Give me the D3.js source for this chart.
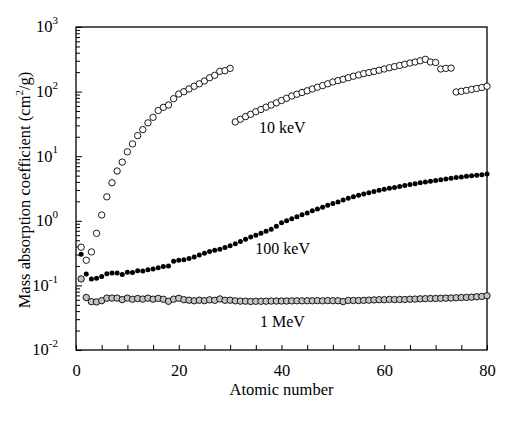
<!DOCTYPE html>
<html>
<head>
<meta charset="utf-8">
<script src="https://d3js.org/d3.v7.min.js"></script>
<style>
  body { margin: 0; background: #fff; }
  text { font-family: "Liberation Serif", "Times New Roman", serif; fill: #000; }
</style>
</head>
<body>
<svg width="517" height="425"></svg>
<script>
// atomic numbers 1..80
var atomicNumbers = d3.range(1, 81);

// mass absorption coefficient (cm2/g)
var kev10 = [0.39, 0.245, 0.33, 0.64, 1.23, 2.35, 3.88, 5.9, 8.1, 11.7,
  15.5, 20.8, 25.8, 32.8, 40, 51, 57, 62, 77.6, 91.8,
  99.7, 110, 121, 132, 146, 164, 179, 206, 211, 229,
  33.9, 37.3, 41, 44.5, 48.8, 52.8, 57.5, 62, 67, 72.8,
  79, 85.5, 91, 96.8, 103, 110, 117, 124, 132, 141,
  148, 155, 164, 173, 181, 190, 197, 205, 214, 224,
  234, 244, 254, 265, 277, 287, 300, 316, 287, 282,
  224, 229, 231, 98.6, 101, 104.5, 108, 112, 116, 121];

var kev100 = [0.303, 0.150, 0.126, 0.129, 0.137, 0.152, 0.155, 0.155, 0.147, 0.160,
  0.158, 0.168, 0.167, 0.175, 0.180, 0.188, 0.196, 0.200, 0.236, 0.245,
  0.250, 0.262, 0.275, 0.295, 0.314, 0.335, 0.350, 0.362, 0.385, 0.41,
  0.44, 0.48, 0.52, 0.56, 0.60, 0.64, 0.69, 0.74, 0.82, 0.93,
  1.0, 1.08, 1.16, 1.24, 1.32, 1.43, 1.52, 1.62, 1.74, 1.85,
  1.96, 2.10, 2.23, 2.36, 2.48, 2.60, 2.72, 2.85, 2.97, 3.08,
  3.18, 3.28, 3.40, 3.52, 3.64, 3.76, 3.88, 3.99, 4.10, 4.21,
  4.33, 4.45, 4.56, 4.67, 4.78, 4.88, 4.97, 5.07, 5.17, 5.3];

var mev1 = [0.126, 0.0650, 0.056, 0.0555, 0.0580, 0.0635, 0.0636, 0.0636, 0.0603, 0.0635,
  0.0610, 0.0627, 0.0614, 0.0635, 0.0612, 0.0630, 0.0610, 0.0568, 0.0612, 0.0632,
  0.0601, 0.0590, 0.0578, 0.0590, 0.0580, 0.0598, 0.0588, 0.0617, 0.0588, 0.0590,
  0.0577, 0.0571, 0.0570, 0.0564, 0.0568, 0.0568, 0.0570, 0.0572, 0.0573, 0.0573,
  0.0574, 0.0576, 0.0578, 0.0577, 0.0579, 0.0578, 0.0581, 0.0577, 0.0582, 0.0579,
  0.0579, 0.0562, 0.0585, 0.0584, 0.0583, 0.0587, 0.0591, 0.0596, 0.0600, 0.0600,
  0.0607, 0.0603, 0.0606, 0.0605, 0.0612, 0.0614, 0.0620, 0.0623, 0.0628, 0.0627,
  0.0632, 0.0634, 0.0638, 0.0643, 0.0649, 0.0652, 0.0658, 0.0666, 0.0675, 0.0692];

var xTicks = d3.range(0, 81, 5);
var xLabels = [0, 20, 40, 60, 80];
var yExponents = [-2, -1, 0, 1, 2, 3];

var labels = [
  {text: "10 keV", x: 35.6, y: 22.9},
  {text: "100 keV", x: 34.9, y: 0.306},
  {text: "1 MeV", x: 35.8, y: 0.0231}
];

var svg = d3.select("svg"),
    margin = {top: 27, right: 30, bottom: 75, left: 76},
    width = +svg.attr("width") - margin.left - margin.right,
    height = +svg.attr("height") - margin.top - margin.bottom;

var g = svg.append("g").attr("transform", "translate(" + margin.left + "," + margin.top + ")");

var x = d3.scaleLinear().domain([0, 80]).range([0, width]);
var y = d3.scaleLog().domain([0.01, 1000]).range([height, 0]);

// minor log ticks
var minor = [];
yExponents.slice(0, -1).forEach(function(e) {
  for (var k = 2; k <= 9; k++) minor.push(k * Math.pow(10, e));
});

g.append("g")
    .attr("class", "minor")
    .call(d3.axisLeft(y).tickValues(minor).tickSize(-4).tickFormat(""))
    .call(function(a) { a.select(".domain").remove(); });

var yAxis = g.append("g")
    .call(d3.axisLeft(y)
      .tickValues(yExponents.map(function(e) { return Math.pow(10, e); }))
      .tickSize(-6).tickPadding(18).tickFormat(""));
yAxis.select(".domain").remove();

yAxis.selectAll(".tick text").each(function(d, i) {
  var t = d3.select(this)
    .style("font-size", "16.5px")
    .attr("dy", "0.3em");
  t.append("tspan").text("10");
  t.append("tspan").text(yExponents[i])
    .style("font-size", "11px")
    .attr("dy", "-0.75em");
});

var xAxis = g.append("g")
    .attr("transform", "translate(0," + height + ")")
    .call(d3.axisBottom(x).tickValues(xTicks).tickSize(-5).tickPadding(14)
      .tickFormat(function(d) { return xLabels.indexOf(d) >= 0 ? d : ""; }));
xAxis.select(".domain").remove();
xAxis.selectAll("text").style("font-size", "16.5px");

svg.selectAll(".tick line").attr("stroke", "#000").attr("stroke-width", 1);

// frame
g.append("rect")
    .attr("width", width)
    .attr("height", height)
    .attr("fill", "none")
    .attr("stroke", "#000")
    .attr("stroke-width", 1.3);

// series
g.selectAll(".mev1")
    .data(mev1)
  .enter().append("circle")
    .attr("class", "mev1")
    .attr("cx", function(d, i) { return x(atomicNumbers[i]); })
    .attr("cy", function(d) { return y(d); })
    .attr("r", 3.2)
    .attr("fill", "#c4c4c4")
    .attr("stroke", "#000")
    .attr("stroke-width", 0.9);

g.selectAll(".kev10")
    .data(kev10)
  .enter().append("circle")
    .attr("class", "kev10")
    .attr("cx", function(d, i) { return x(atomicNumbers[i]); })
    .attr("cy", function(d) { return y(d); })
    .attr("r", 3.2)
    .attr("fill", "#fff")
    .attr("stroke", "#000")
    .attr("stroke-width", 0.9);

g.selectAll(".kev100")
    .data(kev100)
  .enter().append("circle")
    .attr("class", "kev100")
    .attr("cx", function(d, i) { return x(atomicNumbers[i]); })
    .attr("cy", function(d) { return y(d); })
    .attr("r", 2.5)
    .attr("fill", "#000");

g.selectAll(".lbl")
    .data(labels)
  .enter().append("text")
    .attr("class", "lbl")
    .attr("x", function(d) { return x(d.x); })
    .attr("y", function(d) { return y(d.y); })
    .style("font-size", "16px")
    .text(function(d) { return d.text; });

// axis titles
svg.append("text")
    .attr("x", margin.left + width / 2)
    .attr("y", 395)
    .attr("text-anchor", "middle")
    .style("font-size", "16.5px")
    .text("Atomic number");

var yt = svg.append("text")
    .attr("transform", "translate(30," + 190 + ") rotate(-90)")
    .attr("text-anchor", "middle")
    .style("font-size", "16.5px");
yt.append("tspan").text("Mass absorption coefficient (cm");
yt.append("tspan").text("2").style("font-size", "11px").attr("dy", "-0.6em");
yt.append("tspan").text("/g)").attr("dy", "0.4em");
</script>
</body>
</html>
